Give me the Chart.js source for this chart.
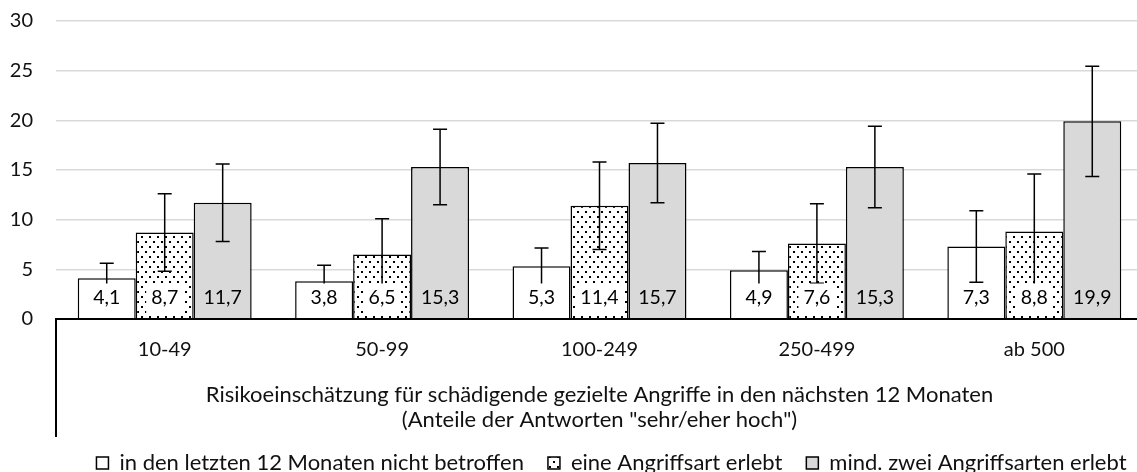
<!DOCTYPE html>
<html>
<head>
<meta charset="utf-8">
<script src="https://cdn.jsdelivr.net/npm/chart.js"></script>
<style>
  html, body { margin: 0; padding: 0; background: #fff; overflow: hidden; }
  #wrap { width: 1143px; height: 484px; }
</style>
</head>
<body>
<div id="wrap"><canvas id="riskChart" width="1143" height="484"></canvas></div>
<script>
const categories = ["10-49", "50-99", "100-249", "250-499", "ab 500"];
const seriesNames = [
  "in den letzten 12 Monaten nicht betroffen",
  "eine Angriffsart erlebt",
  "mind. zwei Angriffsarten erlebt",
];
const notAffected = [4.1, 3.8, 5.3, 4.9, 7.3];
const oneType = [8.7, 6.5, 11.4, 7.6, 8.8];
const twoTypes = [11.7, 15.3, 15.7, 15.3, 19.9];
// half width of the confidence interval per bar
const notAffectedErr = [1.5, 1.6, 1.85, 1.9, 3.6];
const oneTypeErr = [3.9, 3.6, 4.4, 4.0, 5.8];
const twoTypesErr = [3.9, 3.8, 4.0, 4.1, 5.55];
const yMin = 0;
const yMax = 30;
const yStep = 5;
const axisTitle = [
  "Risikoeinschätzung für schädigende gezielte Angriffe in den nächsten 12 Monaten",
  '(Anteile der Antworten "sehr/eher hoch")',
];

const errors = [notAffectedErr, oneTypeErr, twoTypesErr];
const GREY = "#d9d9d9";
const INK = "#111";
const labelBg = ["#ffffff", "#ffffff", GREY];

Chart.defaults.font.family = "Lato, 'Open Sans', sans-serif";
Chart.defaults.font.size = 20;
Chart.defaults.color = INK;

// small black dots on white, used for the middle series
function dotPattern() {
  const c = document.createElement("canvas");
  c.width = 8;
  c.height = 10;
  const g = c.getContext("2d");
  g.fillStyle = "#fff";
  g.fillRect(0, 0, 8, 10);
  g.fillStyle = "#000";
  g.fillRect(1, 1, 2, 2);
  g.fillRect(5, 6, 2, 2);
  return g.createPattern(c, "repeat");
}

const fmt = (v) => v.toFixed(1).replace(".", ",");

// whiskers, then value labels sitting on the bar base
const barExtras = {
  id: "barExtras",
  afterDatasetsDraw(chart) {
    const { ctx } = chart;
    const y = chart.scales.y;
    ctx.save();
    ctx.strokeStyle = "#000";
    ctx.lineWidth = 1.5;
    chart.data.datasets.forEach((ds, i) => {
      chart.getDatasetMeta(i).data.forEach((bar, j) => {
        const v = ds.data[j];
        const e = errors[i][j];
        const top = y.getPixelForValue(v + e);
        const bot = y.getPixelForValue(v - e);
        ctx.beginPath();
        ctx.moveTo(bar.x, top);
        ctx.lineTo(bar.x, bot);
        ctx.moveTo(bar.x - 7, top);
        ctx.lineTo(bar.x + 7, top);
        ctx.moveTo(bar.x - 7, bot);
        ctx.lineTo(bar.x + 7, bot);
        ctx.stroke();
      });
    });

    ctx.font = "19.5px Lato";
    ctx.textAlign = "center";
    ctx.textBaseline = "middle";
    const base = y.getPixelForValue(0);
    chart.data.datasets.forEach((ds, i) => {
      chart.getDatasetMeta(i).data.forEach((bar, j) => {
        const txt = fmt(ds.data[j]);
        const w = ctx.measureText(txt).width + 10;
        ctx.fillStyle = labelBg[i];
        ctx.fillRect(bar.x - w / 2, base - 35.5, w, 29.5);
        ctx.fillStyle = "#000";
        ctx.fillText(txt, bar.x, base - 21);
      });
    });
    ctx.restore();
  },
  afterDraw(chart) {
    // divider line at the left edge of the category band
    const { ctx, chartArea } = chart;
    const x = chart.scales.x;
    ctx.save();
    ctx.strokeStyle = "#000";
    ctx.lineWidth = 2;
    ctx.beginPath();
    ctx.moveTo(chartArea.left, chartArea.bottom);
    ctx.lineTo(chartArea.left, x.bottom + 9);
    ctx.stroke();
    ctx.restore();
  },
};

// nudge the legend a bit to the right
const legendShift = {
  id: "legendShift",
  afterLayout(chart) {
    chart.legend.left += 40;
    chart.legend.right += 40;
  },
};

new Chart(document.getElementById("riskChart"), {
  type: "bar",
  data: {
    labels: categories,
    datasets: [
      { label: seriesNames[0], data: notAffected, backgroundColor: "#ffffff" },
      { label: seriesNames[1], data: oneType, backgroundColor: dotPattern() },
      { label: seriesNames[2], data: twoTypes, backgroundColor: GREY },
    ].map((d) => ({
      ...d,
      borderColor: "#000",
      borderWidth: 1.5,
      borderSkipped: "bottom",
      categoryPercentage: 0.8,
      barPercentage: 1,
    })),
  },
  options: {
    responsive: false,
    animation: false,
    layout: { padding: { top: 21, right: 0, bottom: 0, left: 0 } },
    plugins: {
      tooltip: { enabled: false },
      legend: {
        position: "bottom",
        labels: {
          boxWidth: 12,
          boxHeight: 12,
          padding: 24,
          color: INK,
          font: { size: 22 },
        },
      },
    },
    scales: {
      y: {
        min: yMin,
        max: yMax,
        ticks: { stepSize: yStep, padding: 0, color: INK },
        grid: {
          drawTicks: true,
          tickLength: 23,
          tickColor: "rgba(0,0,0,0)",
          color: (c) => (c.tick && c.tick.value === 0 ? "#000" : GREY),
          lineWidth: (c) => (c.tick && c.tick.value === 0 ? 2 : 1.5),
        },
        border: { display: false },
        afterFit(scale) {
          scale.width = 56;
        },
      },
      x: {
        grid: { display: false, drawTicks: false },
        border: { display: true, color: "#000", width: 2 },
        ticks: { padding: 19, color: INK },
        title: {
          display: true,
          text: axisTitle,
          color: INK,
          font: { size: 22, lineHeight: "25px" },
          padding: { top: 1.5, bottom: -4.5 },
        },
      },
    },
  },
  plugins: [barExtras, legendShift],
});
</script>
</body>
</html>
